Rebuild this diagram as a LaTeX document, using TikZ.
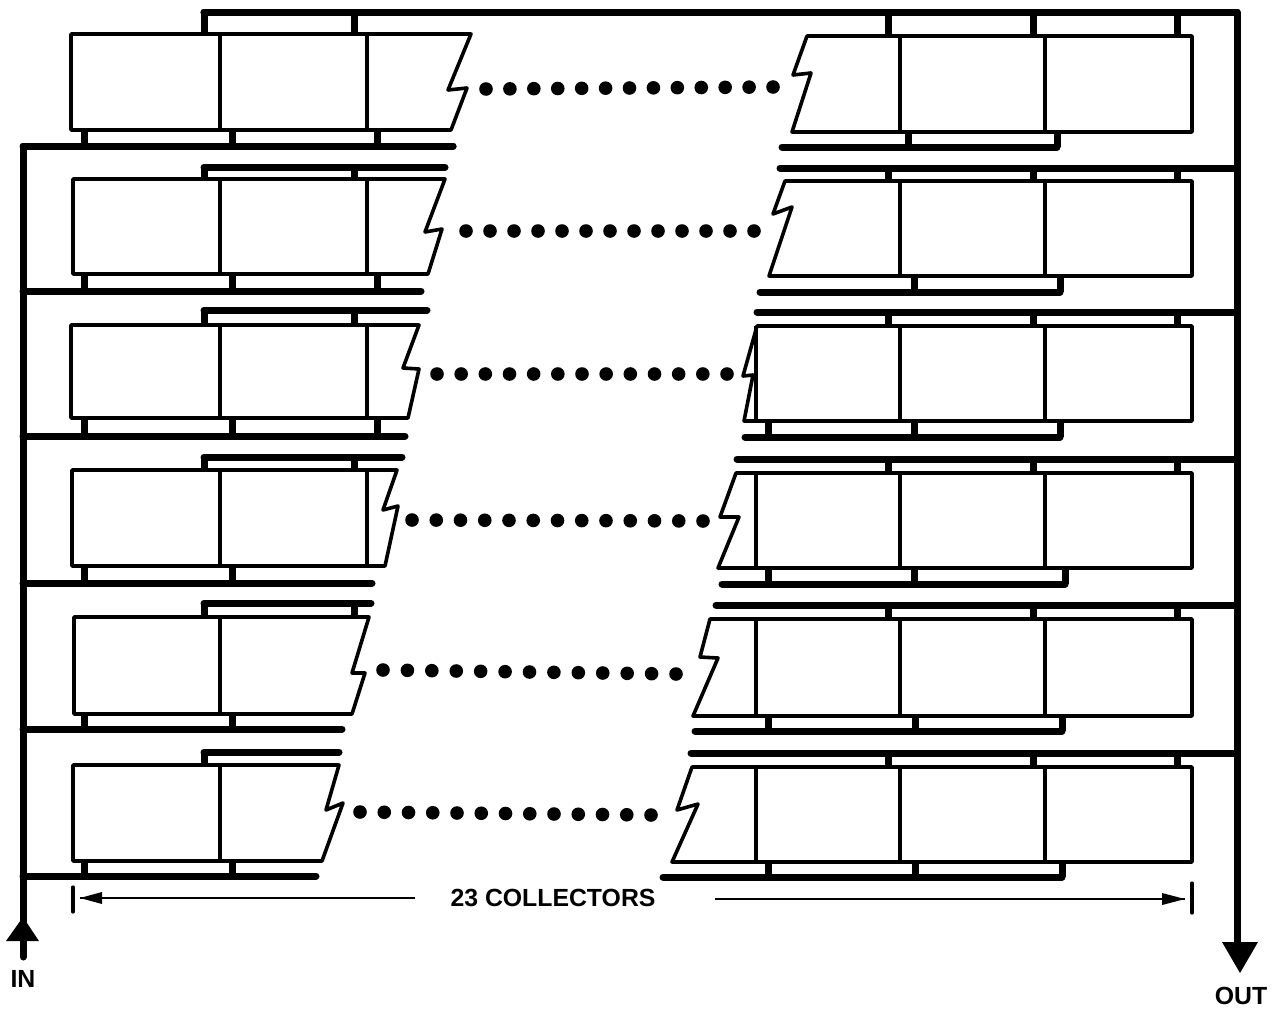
\documentclass[tikz,border=0pt]{standalone}
\usepackage{fontspec}
\setmainfont{Liberation Sans}
\begin{document}
\begin{tikzpicture}[x=0.5pt,y=-0.5pt,
  bus/.style={line width=3.5pt,line cap=round,line join=round},
  stub/.style={line width=3.5pt},
  box/.style={line width=1.8pt,line join=round},
  dim/.style={line width=1pt},
  tick/.style={line width=1.6pt,line cap=round},
  dot/.style={circle,fill=black,inner sep=0pt,minimum size=6.8pt},
  lab/.style={font=\bfseries\fontsize{12.4}{14}\selectfont,inner sep=0pt}]
\useasboundingbox (0,0) rectangle (1272,1012);
% main manifolds
\draw[stub] (204,34) -- (204,12);
\draw[bus] (204,12) -- (1237,12) -- (1237,950);
\draw[bus] (453,146) -- (23,146) -- (23,957);
% left halves: box left, box top, box bottom, bus top, bus bottom, top right, bottom right, notch, bus ends
\foreach \xl/\yt/\yb/\tb/\bb/\tr/\br/\ax/\ay/\bx/\by/\te/\be in {
  71/34/130/12/146/471/451/448/90/467/88/471/453,
  73/179/274/167/291/445/428/425/232/442/229/445/421,
  71/325/418/310/436/419/408/403/368/419/369/427/405,
  72/470/566/457/583/397/385/383/510/398/506/402/372,
  74/617/714/603/729/369/352/352/673/365/673/371/342,
  73/765/861/752/876/339/322/326/810/343/803/339/316}{
  \draw[box] (\tr,\yt) -- (\xl,\yt) -- (\xl,\yb) -- (\br,\yb) -- (\bx,\by) -- (\ax,\ay) -- cycle;
  \draw[bus] (23,\bb) -- (\be,\bb);
  \draw[stub] (204,\yt) -- (204,\tb);
  \draw[bus] (204,\tb) -- (\te,\tb);
  \draw[box] (220,\yt) -- (220,\yb);
  \draw[stub] (84,\yb) -- (84,\bb);
  \draw[stub] (232,\yb) -- (232,\bb);
}
% upper stubs and third dividers on the left
\foreach \yt/\tb in {34/12,179/167,325/310,470/457,617/603}{\draw[stub] (354,\yt) -- (354,\tb);}
\foreach \yt/\yb in {34/130,179/274,325/418,470/566}{\draw[box] (367,\yt) -- (367,\yb);}
\foreach \yb/\bb in {130/146,274/291,418/436}{\draw[stub] (377,\yb) -- (377,\bb);}
% right halves
\foreach \xr/\yt/\yb/\tb/\bb/\tl/\bl/\ax/\ay/\bx/\by/\ts/\bs/\be/\bz in {
  1192/36/132/12/147/807/792/793/75/811/73/807/782/1057/908,
  1192/181/276/168/292/785/769/773/214/792/207/780/760/1060/914,
  1192/326/421/312/437/757/744/743/376/753/375/757/745/1060/914,
  1192/473/568/459/584/736/718/720/517/739/517/737/722/1065/914,
  1192/619/716/605/731/710/693/700/657/718/658/716/695/1062/915,
  1192/767/862/753/877/692/672/677/810/698/804/691/663/1062/915}{
  \draw[box] (\tl,\yt) -- (\xr,\yt) -- (\xr,\yb) -- (\bl,\yb) -- (\bx,\by) -- (\ax,\ay) -- cycle;
  \draw[bus] (\ts,\tb) -- (1237,\tb);
  \draw[bus] (\bs,\bb) -- (\be,\bb);
  \draw[stub] (\be,\bb) -- (\be,\yb);
  \draw[box] (900,\yt) -- (900,\yb);
  \draw[box] (1045,\yt) -- (1045,\yb);
  \draw[stub] (888,\tb) -- (888,\yt);
  \draw[stub] (1033,\tb) -- (1033,\yt);
  \draw[stub] (1177,\tb) -- (1177,\yt);
  \draw[stub] (\bz,\yb) -- (\bz,\bb);
}
\foreach \yt/\yb/\bb in {326/421/437,473/568/584,619/716/731,767/862/877}{
  \draw[box] (756,\yt) -- (756,\yb);
  \draw[stub] (768,\yb) -- (768,\bb);}
% dotted runs
\foreach \xa/\ya/\xb/\yc/\r in {486/89/773/87/a,466/231/754/231/b,437/374/727/374/c,412/520/703/521/d,383/670/676/674/e,360/812/651/815/f}{
  \foreach \i in {0,...,12}{
    \node[dot] (dot\r\i) at ({\xa+(\xb-\xa)*\i/12},{\ya+(\yc-\ya)*\i/12}) {};
  }
}
% inlet and outlet arrows
\fill (23,917) -- (39,941) -- (6,941) -- cycle;
\fill (1222,942) -- (1258,942) -- (1240,973) -- cycle;
\node[lab] (inlabel) at (23,979) {IN};
\node[lab] (outlabel) at (1241,996) {OUT};
% dimension line
\node[lab] (count) at (553,898) {23 COLLECTORS};
\coordinate (leftend) at (415,898);
\coordinate (rightend) at (715,899);
\coordinate (lefttip) at (80,898);
\coordinate (righttip) at (1185,899);
\draw[dim] (leftend) -- (lefttip);
\draw[dim] (rightend) -- (righttip);
\fill (lefttip) -- (102,892) -- (102,904) -- cycle;
\fill (righttip) -- (1162,893) -- (1162,905) -- cycle;
\draw[tick] (73,887) -- (73,912);
\draw[tick] (1192,883) -- (1192,913);
\end{tikzpicture}
\end{document}
